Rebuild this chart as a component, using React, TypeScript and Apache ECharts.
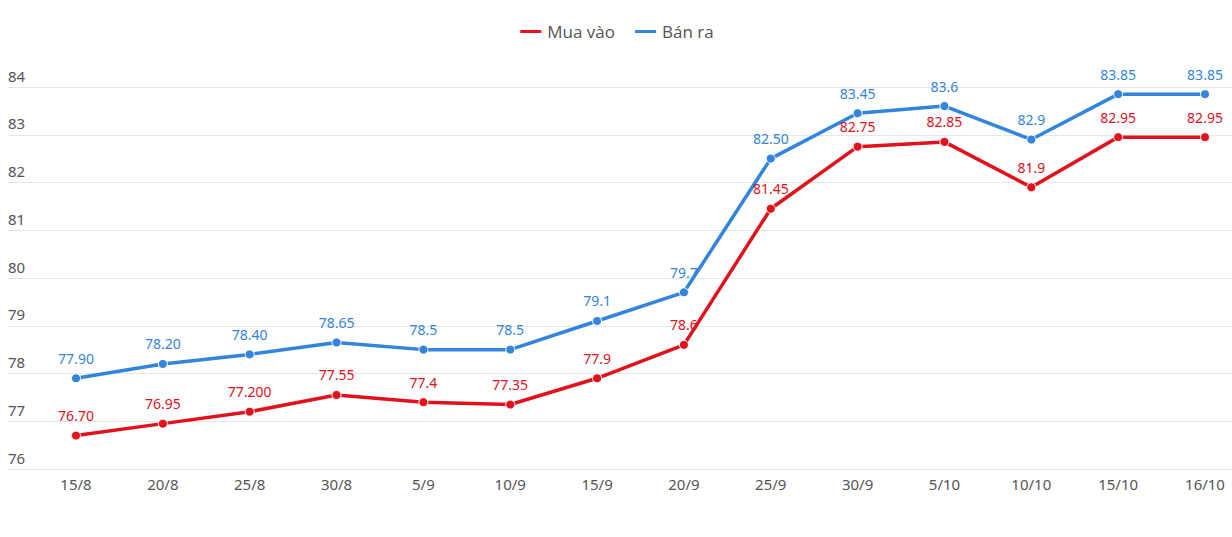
import React, { useEffect, useRef } from "react";
import * as echarts from "echarts";

const categories = ["15/8", "20/8", "25/8", "30/8", "5/9", "10/9", "15/9", "20/9", "25/9", "30/9", "5/10", "10/10", "15/10", "16/10"];
const buyValues = [76.7, 76.95, 77.2, 77.55, 77.4, 77.35, 77.9, 78.6, 81.45, 82.75, 82.85, 81.9, 82.95, 82.95];
const buyLabels = ["76.70", "76.95", "77.200", "77.55", "77.4", "77.35", "77.9", "78.6", "81.45", "82.75", "82.85", "81.9", "82.95", "82.95"];
const sellValues = [77.9, 78.2, 78.4, 78.65, 78.5, 78.5, 79.1, 79.7, 82.5, 83.45, 83.6, 82.9, 83.85, 83.85];
const sellLabels = ["77.90", "78.20", "78.40", "78.65", "78.5", "78.5", "79.1", "79.7", "82.50", "83.45", "83.6", "82.9", "83.85", "83.85"];
const yMin = 76;
const yMax = 84;
const yInterval = 1;

const RED = "#e1121b";
const BLUE = "#3384dd";
const FONT = "'Noto Sans', 'Open Sans', sans-serif";

export default function App() {
  const ref = useRef<HTMLDivElement>(null);
  useEffect(() => {
    if (!ref.current) return;
    const chart = echarts.init(ref.current, undefined, { renderer: "svg" });
    const mkSeries = (name: string, values: number[], labels: string[], color: string) => ({
      name,
      type: "line",
      xAxisIndex: 0,
      yAxisIndex: 0,
      data: values,
      symbol: "circle",
      symbolSize: 9,
      lineStyle: { width: 3.5, color },
      itemStyle: { color, borderColor: "#fff", borderWidth: 1 },
      label: {
        show: true,
        position: "top",
        distance: 8,
        color,
        fontSize: 14,
        fontFamily: FONT,
        formatter: (p: any) => labels[p.dataIndex],
      },
      z: 3,
    });
    chart.setOption({
      animation: false,
      backgroundColor: "#fff",
      legend: {
        top: 18,
        left: "center",
        icon: "roundRect",
        itemWidth: 23,
        itemHeight: 5,
        itemGap: 18,
        textStyle: { color: "#555", fontSize: 17, fontFamily: "'Open Sans', 'Noto Sans', sans-serif" },
        data: ["Mua vào", "Bán ra"],
      },
      grid: [
        { left: 76, right: 27, top: 87, bottom: 68 },
        { left: 8, right: 0, top: 87, bottom: 68 },
      ],
      xAxis: [
        {
          type: "category",
          gridIndex: 0,
          data: categories,
          boundaryGap: false,
          axisLine: { show: false },
          axisTick: { show: false },
          axisLabel: { color: "#555", fontSize: 15, fontFamily: FONT, margin: 7 },
        },
        { type: "value", gridIndex: 1, show: false, min: 0, max: 1 },
      ],
      yAxis: [
        { type: "value", gridIndex: 0, min: yMin, max: yMax, interval: yInterval, show: false },
        {
          type: "value",
          gridIndex: 1,
          min: yMin,
          max: yMax,
          interval: yInterval,
          axisLine: { show: false },
          axisTick: { show: false },
          splitLine: { lineStyle: { color: "#e6e6e6", width: 1 } },
          axisLabel: {
            inside: true,
            align: "left",
            verticalAlign: "bottom",
            margin: 0,
            padding: [0, 0, 4, 0],
            color: "#555",
            fontSize: 15,
            fontFamily: FONT,
          },
        },
      ],
      series: [
        mkSeries("Mua vào", buyValues, buyLabels, RED),
        mkSeries("Bán ra", sellValues, sellLabels, BLUE),
      ],
    });
    return () => chart.dispose();
  }, []);
  return <div ref={ref} style={{ width: 1232, height: 537, position: "absolute", left: 0, top: 0 }} />;
}
